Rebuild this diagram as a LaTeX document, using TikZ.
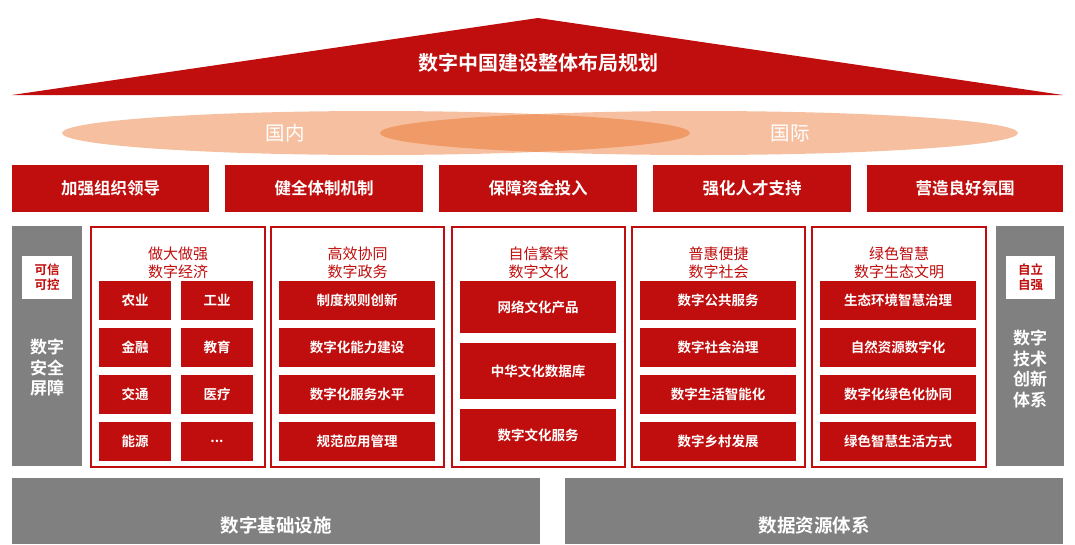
\documentclass[tikz,border=0pt]{standalone}
\usepackage{fontspec}
\newfontfamily\cjk{Noto Sans CJK SC}
\newfontfamily\cjkb{Noto Sans CJK SC Bold}
\definecolor{myred}{HTML}{C00D0D}
\definecolor{mygray}{HTML}{808080}
\definecolor{peach}{HTML}{F6C0A0}
\definecolor{peachd}{HTML}{F09A68}
\newcommand\mydots{...}
\begin{document}
\begin{tikzpicture}[x=1pt,y=-1pt,
 rb/.style={fill=myred,draw=none,text=white,font=\cjkb\fontsize{13.5}{16}\selectfont,inner sep=0},
 top/.style={fill=myred,draw=none,text=white,font=\cjkb\fontsize{16.5}{19}\selectfont,inner sep=0},
 panel/.style={draw=myred,line width=1.2pt,fill=white},
 ptitle/.style={text=myred,font=\cjk\fontsize{15}{17.5}\selectfont,align=center},
 wbox/.style={fill=white,text=myred,font=\cjkb\fontsize{12.5}{15}\selectfont,align=center,inner sep=0},
 gtxt/.style={text=white,font=\cjkb\fontsize{17}{20.5}\selectfont,align=center}]
\useasboundingbox (0,0) rectangle (1075,544);
% roof
\fill[myred] (538,18) -- (1063,95) -- (12,95) -- cycle;
\node[text=white,font=\cjkb\fontsize{20}{22}\selectfont] (title) at (538,63) {数字中国建设整体布局规划};
% ellipses
\fill[peach] (376,133) ellipse [x radius=314,y radius=22];
\fill[peach] (699,133) ellipse [x radius=319,y radius=22];
\begin{scope}
\clip (376,133) ellipse [x radius=314,y radius=22];
\fill[peachd] (699,133) ellipse [x radius=319,y radius=22];
\end{scope}
\node[text=white,font=\cjk\fontsize{19.5}{22}\selectfont] (dn) at (285,133) {国内};
\node[text=white,font=\cjk\fontsize{19.5}{22}\selectfont] (gj) at (790,133) {国际};
% top row
\foreach \a/\b/\t [count=\i] in {12/209/加强组织领导,225/423/健全体制机制,439/637/保障资金投入,653/851/强化人才支持,867/1063/营造良好氛围}{
 \fill[myred] (\a,165) rectangle (\b,212);
 \node[top] (t\i) at ({(\a+\b)/2},188.5) {\t};
}
% side columns
\fill[mygray] (12,226) rectangle (82,466);
\fill[white] (22,256) rectangle (72,299);
\node[wbox] (kx) at (47,277.5) {可信\\可控};
\node[gtxt] (aq) at (47,368) {数字\\安全\\屏障};
\fill[mygray] (996,226) rectangle (1064,466);
\fill[white] (1006,256) rectangle (1055,299);
\node[wbox] (zl) at (1030.5,277.5) {自立\\自强};
\node[gtxt] (js) at (1030,369) {数字\\技术\\创新\\体系};
% panels
\foreach \a/\b/\t [count=\i] in {91/265/{做大做强\\数字经济},271/444/{高效协同\\数字政务},452/625/{自信繁荣\\数字文化},632/805/{普惠便捷\\数字社会},812/986/{绿色智慧\\数字生态文明}}{
 \draw[panel] (\a,227) rectangle (\b,467);
 \node[ptitle] (p\i) at ({(\a+\b)/2},263) {\t};
}
% panel 1 grid
\foreach \ya/\yb/\l/\r [count=\i] in {281/320/农业/工业,328/367/金融/教育,375/414/交通/医疗,422/461/能源/\mydots}{
 \fill[myred] (99,\ya) rectangle (171,\yb);
 \node[rb] (e\i a) at (135,{(\ya+\yb)/2}) {\l};
 \fill[myred] (181,\ya) rectangle (253,\yb);
 \node[rb] (e\i b) at (217,{(\ya+\yb)/2}) {\r};
}
% panels 2,4,5
\foreach \x/\p [count=\j] in {279/{制度规则创新,数字化能力建设,数字化服务水平,规范应用管理},640/{数字公共服务,数字社会治理,数字生活智能化,数字乡村发展},820/{生态环境智慧治理,自然资源数字化,数字化绿色化协同,绿色智慧生活方式}}{
 \foreach \t [count=\i] in \p {
  \pgfmathsetmacro\ya{281+47*(\i-1)}
  \fill[myred] (\x,\ya) rectangle (\x+156,\ya+39);
  \node[rb] (g\j-\i) at (\x+78,\ya+19.5) {\t};
 }
}
% panel 3
\foreach \ya/\yb/\t [count=\i] in {281/333/网络文化产品,343/399/中华文化数据库,409/461/数字文化服务}{
 \fill[myred] (460,\ya) rectangle (616,\yb);
 \node[rb] (c\i) at (538,{(\ya+\yb)/2}) {\t};
}
% bottom
\fill[mygray] (12,478) rectangle (540,544);
\node[gtxt,font=\cjkb\fontsize{18.5}{21}\selectfont] (jc) at (276,525) {数字基础设施};
\fill[mygray] (565,478) rectangle (1063,544);
\node[gtxt,font=\cjkb\fontsize{18.5}{21}\selectfont] (zy) at (814,525) {数据资源体系};
\end{tikzpicture}
\end{document}
